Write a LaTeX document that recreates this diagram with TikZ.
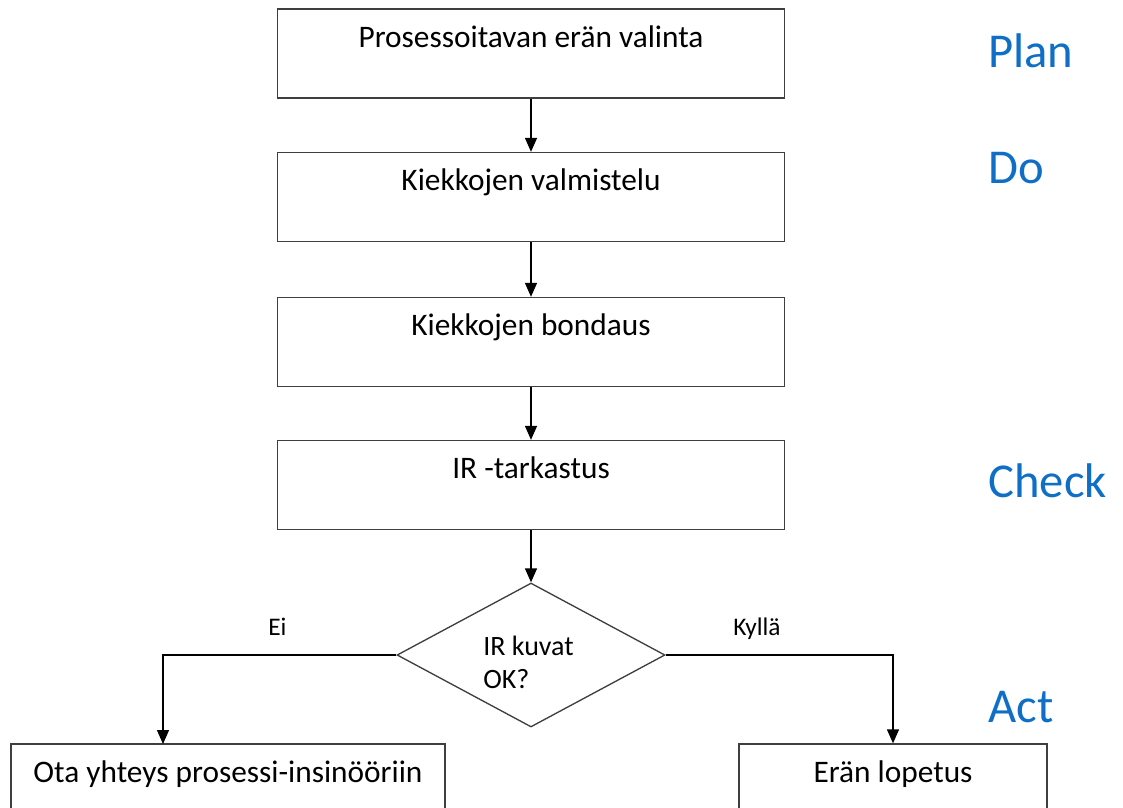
\documentclass[tikz,border=0pt]{standalone}
\usepackage{fontspec}
\setmainfont{Carlito}
\usetikzlibrary{arrows.meta,shapes.geometric}
\definecolor{pdcablue}{HTML}{0F6FC6}
\definecolor{edgegray}{HTML}{3F3F3F}
\begin{document}
\begin{tikzpicture}[x=0.75pt,y=-0.75pt,
  stepbox/.style={draw=edgegray,line width=1pt,rectangle,inner xsep=0pt,inner ysep=0pt,
    minimum width=380pt,text height=28.5pt,text depth=38.25pt,
    font=\fontsize{23.5}{27}\selectfont},
  endbox/.style={stepbox,minimum width=#1},
  decision/.style={draw=edgegray,line width=1pt,diamond,inner sep=0pt,
    minimum width=201pt,minimum height=108pt},
  dtext/.style={anchor=base west,inner sep=0pt,font=\fontsize{21}{24}\selectfont},
  branch/.style={anchor=base west,inner sep=0pt,font=\fontsize{19}{22}\selectfont},
  phase/.style={anchor=base west,inner sep=0pt,text=pdcablue,font=\fontsize{36.5}{40}\selectfont},
  conn/.style={draw=black,line width=1pt,-{Triangle[width=9pt,length=10.5pt]}}
]
\useasboundingbox (0,0) rectangle (1123,807);
\clip (0,0) rectangle (1123,807);

\node[stepbox] (b1) at (531,53.5) {Prosessoitavan erän valinta};
\node[stepbox] (b2) at (531,197) {Kiekkojen valmistelu};
\node[stepbox] (b3) at (531,342) {Kiekkojen bondaus};
\node[stepbox] (b4) at (531,485) {IR -tarkastus};

\node[decision] (d) at (531,655) {};
\node[dtext] (dt1) at (483,655) {IR kuvat};
\node[dtext] (dt2) at (483,688) {OK?};

\node[endbox=325.5pt] (lb) at (228,788.5) {Ota yhteys prosessi-insinööriin};
\node[endbox=231pt] (rb) at (893,788.5) {Erän lopetus};
\coordinate (lbin) at (163,744);

\draw[conn] (b1) -- (b2);
\draw[conn] (b2) -- (b3);
\draw[conn] (b3) -- (b4);
\draw[conn] (b4) -- (d);
\draw[conn] (d.west) -| (lbin);
\draw[conn] (d.east) -| (rb.north);

\node[branch] (ei) at (268,635) {Ei};
\node[branch] (kylla) at (733,635) {Kyllä};

\node[phase] (plan) at (988,67) {Plan};
\node[phase] (do) at (988,183) {Do};
\node[phase] (check) at (988,497) {Check};
\node[phase] (act) at (988,722) {Act};
\end{tikzpicture}
\end{document}
